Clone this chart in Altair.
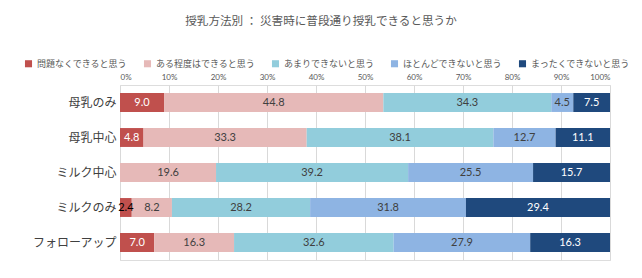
import altair as alt
import pandas as pd

methods = ["母乳のみ", "母乳中心", "ミルク中心", "ミルクのみ", "フォローアップ"]
answers = ["問題なくできると思う", "ある程度はできると思う", "あまりできないと思う",
           "ほとんどできないと思う", "まったくできないと思う"]
colors = ["#C0504D", "#E6B9B8", "#92CDDC", "#8EB4E3", "#1F497D"]
label_colors = ["#FFFFFF", "#404040", "#404040", "#404040", "#FFFFFF"]

values = {
    "母乳のみ":     [9.0, 44.8, 34.3, 4.5, 7.5],
    "母乳中心":     [4.8, 33.3, 38.1, 12.7, 11.1],
    "ミルク中心":   [0.0, 19.6, 39.2, 25.5, 15.7],
    "ミルクのみ":   [2.4, 8.2, 28.2, 31.8, 29.4],
    "フォローアップ": [7.0, 16.3, 32.6, 27.9, 16.3],
}

rows = []
for m in methods:
    for i, a in enumerate(answers):
        v = values[m][i]
        tc = label_colors[i]
        if m == "ミルクのみ" and i == 0:
            tc = "#000000"
        rows.append({"method": m, "answer": a, "idx": i, "value": v,
                     "label": f"{v:.1f}", "tc": tc})
df = pd.DataFrame(rows)

base = alt.Chart(df).transform_stack(
    stack="value", groupby=["method"], sort=[alt.SortField("idx", order="ascending")],
    as_=["v0", "v1"], offset="normalize"
).transform_calculate(mid="(datum.v0 + datum.v1) / 2")

y_enc = alt.Y("method:N", sort=methods, title=None,
              scale=alt.Scale(paddingInner=0.46, paddingOuter=0.23),
              axis=alt.Axis(labelFont="Noto Sans CJK JP", labelFontSize=12,
                            labelColor="#404040", ticks=False, domain=False,
                            labelPadding=4))

bars = base.mark_bar().encode(
    x=alt.X("v0:Q", scale=alt.Scale(domain=[0, 1], nice=False),
            axis=alt.Axis(orient="top", format="%", values=[i / 10 for i in range(11)],
                          labelFont="Lato", labelFontSize=8, labelColor="#595959",
                          ticks=False, domain=False, grid=True, gridColor="#D9D9D9",
                          labelPadding=4),
            title=None),
    x2="v1:Q",
    y=y_enc,
    color=alt.Color("answer:N", sort=answers,
                    scale=alt.Scale(domain=answers, range=colors),
                    legend=alt.Legend(title=None, orient="none", direction="horizontal",
                                      legendX=-96, legendY=-26, symbolType="square",
                                      symbolSize=50, symbolStrokeWidth=0,
                                      labelFont="Noto Sans CJK JP", labelFontSize=9,
                                      labelColor="#595959", columnPadding=15,
                                      labelOffset=4, labelLimit=200)),
)

texts = base.transform_filter("datum.value > 0").mark_text(
    font="Lato", fontSize=11
).encode(
    x="mid:Q",
    y=alt.Y("method:N", sort=methods),
    text="label:N",
    color=alt.Color("tc:N", scale=None),
)

chart = alt.layer(bars, texts).properties(
    width=490, height=175,
    title=alt.TitleParams("授乳方法別 ： 災害時に普段通り授乳できると思うか",
                          font="Noto Sans CJK JP", fontSize=11.6, fontWeight="normal",
                          color="#595959", anchor="middle", offset=31, dx=-44),
    autosize=alt.AutoSizeParams(type="none"),
    padding={"left": 120, "top": 85, "right": 32, "bottom": 18},
).configure_view(stroke=None).configure(background="#FFFFFF")

chart.save("out.html", embed_options={"renderer": "svg", "actions": False})
